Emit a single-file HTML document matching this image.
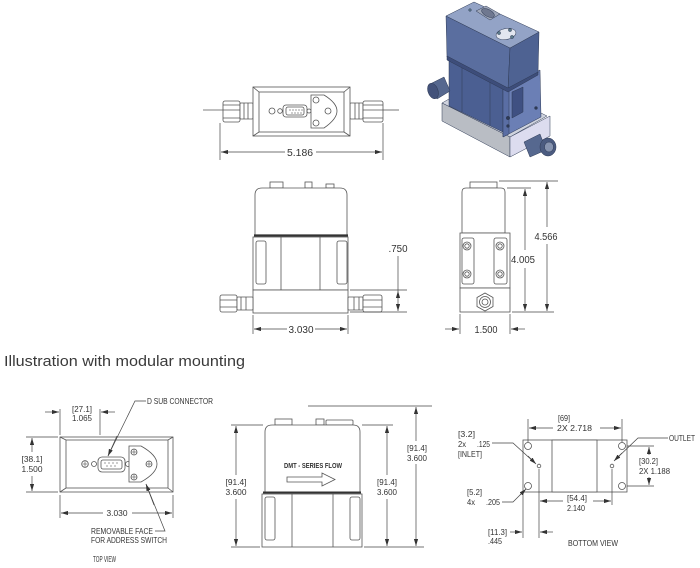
<!DOCTYPE html>
<html><head><meta charset="utf-8"><style>
html,body{margin:0;padding:0;background:#fff;}
svg{display:block;}
text{font-family:"Liberation Sans",Arial,sans-serif;fill:#333;}
</style></head><body>
<svg width="700" height="568" viewBox="0 0 700 568" xmlns="http://www.w3.org/2000/svg">
<defs>
<marker id="a" viewBox="0 0 10 6" refX="10" refY="3" markerWidth="7" markerHeight="4.2" orient="auto" markerUnits="userSpaceOnUse"><path d="M0,0 L10,3 L0,6 z" fill="#333"/></marker>
</defs>

<!-- ================= UPPER TOP VIEW ================= -->
<g stroke="#555" stroke-width="0.8" fill="#fff">
 <line x1="203" y1="110" x2="223" y2="110"/>
 <line x1="383" y1="110" x2="399" y2="110"/>
 <rect x="223" y="101" width="17" height="21" rx="2"/>
 <line x1="223" y1="105" x2="240" y2="105"/><line x1="223" y1="118" x2="240" y2="118"/>
 <line x1="223" y1="110" x2="240" y2="110"/>
 <rect x="240" y="103" width="13" height="16" rx="1"/>
 <line x1="244" y1="103" x2="244" y2="119"/><line x1="248" y1="103" x2="248" y2="119"/>
 <rect x="350" y="103" width="13" height="16" rx="1"/>
 <line x1="355" y1="103" x2="355" y2="119"/><line x1="359" y1="103" x2="359" y2="119"/>
 <rect x="363" y="101" width="20" height="21" rx="2"/>
 <line x1="363" y1="105" x2="383" y2="105"/><line x1="363" y1="118" x2="383" y2="118"/>
 <line x1="363" y1="110" x2="383" y2="110"/>
 <rect x="253" y="87" width="97" height="49"/>
 <rect x="259" y="92" width="85" height="40"/>
 <line x1="253" y1="87" x2="259" y2="92"/><line x1="350" y1="87" x2="344" y2="92"/>
 <line x1="253" y1="136" x2="259" y2="132"/><line x1="350" y1="136" x2="344" y2="132"/>
 <rect x="283" y="105" width="24" height="12" rx="3"/>
 <rect x="286" y="107" width="18" height="8" rx="2"/>
 <circle cx="272" cy="111" r="3"/><circle cx="280" cy="111" r="2.3"/><circle cx="309" cy="111" r="2"/>
 <path d="M311,95 L324,95 Q337,103 337,111 Q337,119 324,128 L311,128 Z"/>
 <circle cx="316" cy="100" r="3"/><circle cx="316" cy="123" r="3"/><circle cx="328" cy="111" r="3"/>
</g>
<g fill="#555"><circle cx="290" cy="110" r=".6"/><circle cx="293" cy="110" r=".6"/><circle cx="296" cy="110" r=".6"/><circle cx="299" cy="110" r=".6"/><circle cx="302" cy="110" r=".6"/><circle cx="292" cy="113" r=".6"/><circle cx="295" cy="113" r=".6"/><circle cx="298" cy="113" r=".6"/><circle cx="301" cy="113" r=".6"/></g>
<g stroke="#444" stroke-width="0.7" fill="none">
 <line x1="220" y1="123" x2="220" y2="160"/><line x1="383" y1="123" x2="383" y2="160"/>
 <line x1="285" y1="152" x2="221" y2="152" marker-end="url(#a)"/>
 <line x1="316" y1="152" x2="382" y2="152" marker-end="url(#a)"/>
</g>
<text x="300" y="156" font-size="10" text-anchor="middle" textLength="26" lengthAdjust="spacingAndGlyphs">5.186</text>

<!-- ================= 3D RENDER ================= -->
<g stroke="#2e3a55" stroke-width="0.5">
 <polygon points="442,103 510,137 547,116 479,82" fill="#cfd3de"/>
 <polygon points="442,103 510,137 510,157 442,121" fill="#b9bdc4"/>
 <polygon points="510,137 550,116 550,136 510,157" fill="#dcdcef"/>
 <polygon points="449,57 507,88 507,134 449,106" fill="#4b5f92"/>
 <line x1="462" y1="64" x2="462" y2="112"/><line x1="490" y1="79" x2="490" y2="126"/>
 <polygon points="503,88 540,70 541,117 503,137" fill="#6b7fb5"/>
 <polygon points="503,88 509,85 509,134 503,137" fill="#5a6ea4"/>
 <polygon points="512,92 523,87 523,112 512,118" fill="#3f5082"/>
 <circle cx="508" cy="118" r="1.8" fill="#2e3a55"/><circle cx="508" cy="126" r="1.5" fill="#2e3a55"/>
 <circle cx="536" cy="108" r="1.5" fill="#2e3a55"/>
 <polygon points="446,16 510,48 508,90 447,57" fill="#5a6e9f"/>
 <polygon points="510,48 539,32 538,73 508,90" fill="#4e6292"/>
 <polygon points="446,16 474,2 539,32 510,48" fill="#93a3c6"/>
 <polygon points="447,56 508,88 538,72 538,75 508,92 447,60" fill="#3d4d7a"/>
 <polygon points="476,11 486,6 500,14 490,20" fill="#a0a8ba"/>
 <ellipse cx="488" cy="13" rx="7" ry="3.5" fill="#6f7890" transform="rotate(28 488 13)"/>
 <ellipse cx="506" cy="34" rx="10" ry="5.5" fill="#e2e6f0" transform="rotate(-10 506 34)"/>
 <circle cx="499" cy="33" r="1.6" fill="#5a7a8a"/><circle cx="510" cy="30" r="1.6" fill="#5a7a8a"/><circle cx="512" cy="37" r="1.6" fill="#5a7a8a"/>
 <circle cx="470" cy="10" r="1.3" fill="#5a7a8a"/>
 <path d="M430,84 L444,77 L450,91 L437,99 Z" fill="#56688f"/>
 <ellipse cx="433" cy="91" rx="5" ry="8" fill="#43527a" transform="rotate(-20 433 91)"/>
 <path d="M524,142 L540,134 L546,150 L530,157 Z" fill="#56688f"/>
 <ellipse cx="548" cy="147" rx="8" ry="9" fill="#4b5b80"/>
 <ellipse cx="549" cy="147" rx="4.5" ry="5" fill="#8794b0"/>
</g>

<!-- ================= UPPER FRONT VIEW ================= -->
<g stroke="#555" stroke-width="0.8" fill="#fff">
 <rect x="270" y="182" width="13" height="6"/><rect x="305" y="182" width="7" height="6"/><rect x="326" y="184" width="8" height="4"/>
 <path d="M255,235 L255,195 Q255,188 262,188 L340,188 Q347,188 347,195 L347,235 Z"/>
 <rect x="253" y="237" width="95" height="53"/>
 <line x1="281" y1="237" x2="281" y2="290"/><line x1="320" y1="237" x2="320" y2="290"/>
 <rect x="256" y="241" width="10" height="43" rx="2"/><rect x="337" y="241" width="10" height="43" rx="2"/>
 <rect x="253" y="290" width="95" height="23"/>
 <rect x="220" y="295" width="17" height="17" rx="2"/>
 <line x1="220" y1="300" x2="237" y2="300"/><line x1="220" y1="307" x2="237" y2="307"/>
 <rect x="237" y="297" width="16" height="13" rx="1"/>
 <line x1="241" y1="297" x2="241" y2="310"/><line x1="246" y1="297" x2="246" y2="310"/>
 <rect x="348" y="297" width="15" height="13" rx="1"/>
 <line x1="354" y1="297" x2="354" y2="310"/><line x1="359" y1="297" x2="359" y2="310"/>
 <rect x="363" y="295" width="19" height="17" rx="2"/>
 <line x1="363" y1="300" x2="382" y2="300"/><line x1="363" y1="307" x2="382" y2="307"/>
</g>
<line x1="254" y1="235.5" x2="348" y2="235.5" stroke="#333" stroke-width="2.2"/>
<g stroke="#444" stroke-width="0.7" fill="none">
 <line x1="350" y1="290" x2="407" y2="290"/><line x1="350" y1="312" x2="407" y2="312"/>
 <line x1="398" y1="256" x2="398" y2="291"/>
 <line x1="398" y1="301" x2="398" y2="291" marker-end="url(#a)"/>
 <line x1="398" y1="301" x2="398" y2="311" marker-end="url(#a)"/>
 <line x1="253" y1="315" x2="253" y2="334"/><line x1="348" y1="315" x2="348" y2="334"/>
 <line x1="287" y1="329" x2="254" y2="329" marker-end="url(#a)"/>
 <line x1="315" y1="329" x2="347" y2="329" marker-end="url(#a)"/>
</g>
<text x="398" y="252" font-size="10" text-anchor="middle" textLength="19" lengthAdjust="spacingAndGlyphs">.750</text>
<text x="301" y="333" font-size="10" text-anchor="middle" textLength="25" lengthAdjust="spacingAndGlyphs">3.030</text>

<!-- ================= UPPER SIDE VIEW ================= -->
<g stroke="#555" stroke-width="0.8" fill="#fff">
 <rect x="470" y="182" width="27" height="6"/>
 <path d="M462,233 L462,192 Q462,188 466,188 L501,188 Q505,188 505,192 L505,233 Z"/>
 <rect x="460" y="233" width="50" height="55"/>
 <rect x="462" y="238" width="12" height="46" rx="2"/><rect x="494" y="238" width="13" height="46" rx="2"/>
 <rect x="460" y="288" width="50" height="24"/>
 <circle cx="467" cy="246" r="4"/><circle cx="467" cy="274" r="4"/><circle cx="500" cy="246" r="4"/><circle cx="500" cy="274" r="4"/>
 <circle cx="467" cy="246" r="2.2"/><circle cx="467" cy="274" r="2.2"/><circle cx="500" cy="246" r="2.2"/><circle cx="500" cy="274" r="2.2"/>
 <polygon points="485,293 493,297.5 493,306.5 485,311 477,306.5 477,297.5"/>
 <circle cx="485" cy="302" r="5.5"/><circle cx="485" cy="302" r="3"/>
</g>
<g stroke="#444" stroke-width="0.7" fill="none">
 <line x1="507" y1="188" x2="531" y2="188"/><line x1="499" y1="181" x2="558" y2="181"/>
 <line x1="512" y1="312" x2="554" y2="312"/>
 <line x1="525" y1="250" x2="525" y2="189" marker-end="url(#a)"/>
 <line x1="525" y1="268" x2="525" y2="311" marker-end="url(#a)"/>
 <line x1="547" y1="227" x2="547" y2="182" marker-end="url(#a)"/>
 <line x1="547" y1="244" x2="547" y2="311" marker-end="url(#a)"/>
 <line x1="460" y1="314" x2="460" y2="334"/><line x1="510" y1="314" x2="510" y2="334"/>
 <line x1="445" y1="329" x2="459" y2="329" marker-end="url(#a)"/>
 <line x1="525" y1="329" x2="511" y2="329" marker-end="url(#a)"/>
</g>
<text x="523" y="263" font-size="10" text-anchor="middle" textLength="24" lengthAdjust="spacingAndGlyphs">4.005</text>
<text x="546" y="240" font-size="10" text-anchor="middle" textLength="23" lengthAdjust="spacingAndGlyphs">4.566</text>
<text x="486" y="333" font-size="10" text-anchor="middle" textLength="23" lengthAdjust="spacingAndGlyphs">1.500</text>

<!-- ================= TITLE ================= -->
<text x="4" y="366" font-size="15" textLength="241" lengthAdjust="spacingAndGlyphs" style="fill:#3a3a3a">Illustration with modular mounting</text>

<!-- ================= BOTTOM-LEFT TOP VIEW ================= -->
<g stroke="#555" stroke-width="0.8" fill="#fff">
 <rect x="60" y="437" width="113" height="55"/>
 <rect x="66" y="440" width="102" height="48"/>
 <line x1="60" y1="437" x2="66" y2="440"/><line x1="173" y1="437" x2="168" y2="440"/>
 <line x1="60" y1="492" x2="66" y2="488"/><line x1="173" y1="492" x2="168" y2="488"/>
 <rect x="98" y="457" width="27" height="15" rx="4"/>
 <rect x="101" y="460" width="21" height="9" rx="2"/>
 <circle cx="85" cy="464" r="3.3"/><circle cx="94" cy="464" r="2.5"/><circle cx="128" cy="464" r="2.5"/>
 <path d="M129,446 L141,446 Q157,455 157,464 Q157,473 141,482 L129,482 Z"/>
 <circle cx="134" cy="452" r="3"/><circle cx="149" cy="464" r="3"/><circle cx="134" cy="477" r="3"/>
</g>
<g stroke="#555" stroke-width="0.6"><line x1="82.5" y1="464" x2="87.5" y2="464"/><line x1="85" y1="461.5" x2="85" y2="466.5"/>
<line x1="131.5" y1="452" x2="136.5" y2="452"/><line x1="134" y1="449.5" x2="134" y2="454.5"/>
<line x1="146.5" y1="464" x2="151.5" y2="464"/><line x1="149" y1="461.5" x2="149" y2="466.5"/>
<line x1="131.5" y1="477" x2="136.5" y2="477"/><line x1="134" y1="474.5" x2="134" y2="479.5"/></g>
<g fill="#555"><circle cx="105" cy="463" r=".6"/><circle cx="109" cy="463" r=".6"/><circle cx="113" cy="463" r=".6"/><circle cx="117" cy="463" r=".6"/><circle cx="107" cy="466" r=".6"/><circle cx="111" cy="466" r=".6"/><circle cx="115" cy="466" r=".6"/></g>
<g stroke="#444" stroke-width="0.7" fill="none">
 <line x1="60" y1="409" x2="60" y2="435"/><line x1="100" y1="409" x2="100" y2="435"/>
 <line x1="45" y1="412" x2="59" y2="412" marker-end="url(#a)"/>
 <line x1="115" y1="412" x2="101" y2="412" marker-end="url(#a)"/>
 <line x1="26" y1="437" x2="58" y2="437"/><line x1="26" y1="492" x2="58" y2="492"/>
 <line x1="32" y1="452" x2="32" y2="438" marker-end="url(#a)"/>
 <line x1="32" y1="476" x2="32" y2="491" marker-end="url(#a)"/>
 <line x1="60" y1="495" x2="60" y2="518"/><line x1="173" y1="495" x2="173" y2="518"/>
 <line x1="103" y1="513" x2="61" y2="513" marker-end="url(#a)"/>
 <line x1="132" y1="513" x2="172" y2="513" marker-end="url(#a)"/>
 <polyline points="146,401 135,401 108,456" />
 <line x1="117" y1="436" x2="108" y2="456" marker-end="url(#a)"/>
 <polyline points="155,531 165,531 146,484"/>
 <line x1="154" y1="505" x2="146" y2="484" marker-end="url(#a)"/>
</g>
<g font-size="8.2">
 <text x="82" y="412" text-anchor="middle" textLength="20" lengthAdjust="spacingAndGlyphs">[27.1]</text>
 <text x="82" y="421" text-anchor="middle" textLength="20" lengthAdjust="spacingAndGlyphs">1.065</text>
 <text x="32" y="462" text-anchor="middle" textLength="21" lengthAdjust="spacingAndGlyphs">[38.1]</text>
 <text x="32" y="472" text-anchor="middle" textLength="21" lengthAdjust="spacingAndGlyphs">1.500</text>
 <text x="117" y="516" text-anchor="middle" textLength="21" lengthAdjust="spacingAndGlyphs">3.030</text>
 <text x="147" y="404" textLength="66" lengthAdjust="spacingAndGlyphs">D SUB CONNECTOR</text>
 <text x="91" y="534" textLength="62" lengthAdjust="spacingAndGlyphs">REMOVABLE FACE</text>
 <text x="91" y="543" textLength="76" lengthAdjust="spacingAndGlyphs">FOR ADDRESS SWITCH</text>
 <text x="93" y="562" textLength="23" lengthAdjust="spacingAndGlyphs">TOP VIEW</text>
</g>

<!-- ================= BOTTOM-MIDDLE FRONT VIEW ================= -->
<g stroke="#555" stroke-width="0.8" fill="#fff">
 <rect x="275" y="419" width="17" height="6"/><rect x="316" y="419" width="8" height="6"/><rect x="326" y="420" width="27" height="5" rx="1"/>
 <path d="M265,492 L265,432 Q265,425 272,425 L353,425 Q360,425 360,432 L360,492 Z"/>
 <rect x="262" y="494" width="100" height="53"/>
 <line x1="292" y1="494" x2="292" y2="547"/><line x1="333" y1="494" x2="333" y2="547"/>
 <rect x="265" y="497" width="10" height="43" rx="2"/><rect x="350" y="497" width="10" height="43" rx="2"/>
 <path d="M287,477 L322,477 L322,473 L335,479.5 L322,486 L322,482 L287,482 Z"/>
</g>
<line x1="263" y1="492.5" x2="361" y2="492.5" stroke="#333" stroke-width="2"/>
<text x="313" y="468" font-size="7.5" font-weight="bold" text-anchor="middle" textLength="58" lengthAdjust="spacingAndGlyphs">DMT - SERIES FLOW</text>
<g stroke="#444" stroke-width="0.7" fill="none">
 <line x1="231" y1="425" x2="263" y2="425"/><line x1="231" y1="547" x2="260" y2="547"/>
 <line x1="362" y1="425" x2="393" y2="425"/><line x1="364" y1="547" x2="424" y2="547"/>
 <line x1="308" y1="406" x2="432" y2="406"/>
 <line x1="236" y1="475" x2="236" y2="426" marker-end="url(#a)"/>
 <line x1="236" y1="499" x2="236" y2="546" marker-end="url(#a)"/>
 <line x1="387" y1="475" x2="387" y2="426" marker-end="url(#a)"/>
 <line x1="387" y1="499" x2="387" y2="546" marker-end="url(#a)"/>
 <line x1="416" y1="441" x2="416" y2="407" marker-end="url(#a)"/>
 <line x1="416" y1="464" x2="416" y2="546" marker-end="url(#a)"/>
</g>
<g font-size="8.2" text-anchor="middle">
 <text x="236" y="485" textLength="21" lengthAdjust="spacingAndGlyphs">[91.4]</text>
 <text x="236" y="495" textLength="21" lengthAdjust="spacingAndGlyphs">3.600</text>
 <text x="387" y="485" textLength="20" lengthAdjust="spacingAndGlyphs">[91.4]</text>
 <text x="387" y="495" textLength="20" lengthAdjust="spacingAndGlyphs">3.600</text>
 <text x="417" y="451" textLength="20" lengthAdjust="spacingAndGlyphs">[91.4]</text>
 <text x="417" y="461" textLength="20" lengthAdjust="spacingAndGlyphs">3.600</text>
</g>

<!-- ================= BOTTOM VIEW ================= -->
<g stroke="#555" stroke-width="0.8" fill="#fff">
 <rect x="523" y="440" width="104" height="52"/>
 <rect x="552" y="440" width="45" height="52"/>
 <circle cx="528" cy="446" r="3.5"/><circle cx="622" cy="446" r="3.5"/>
 <circle cx="528" cy="486" r="3.5"/><circle cx="622" cy="486" r="3.5"/>
 <circle cx="539" cy="466" r="1.8"/><circle cx="612" cy="466" r="1.8"/>
</g>
<g stroke="#444" stroke-width="0.7" fill="none">
 <line x1="528" y1="419" x2="528" y2="442"/><line x1="622" y1="419" x2="622" y2="442"/>
 <line x1="553" y1="428" x2="529" y2="428" marker-end="url(#a)"/>
 <line x1="600" y1="428" x2="621" y2="428" marker-end="url(#a)"/>
 <line x1="627" y1="446" x2="654" y2="446"/><line x1="627" y1="486" x2="654" y2="486"/>
 <line x1="649" y1="455" x2="649" y2="447" marker-end="url(#a)"/>
 <line x1="649" y1="477" x2="649" y2="485" marker-end="url(#a)"/>
 <line x1="539" y1="469" x2="539" y2="538"/><line x1="612" y1="469" x2="612" y2="505"/>
 <line x1="523" y1="493" x2="523" y2="538"/>
 <line x1="563" y1="501" x2="540" y2="501" marker-end="url(#a)"/>
 <line x1="593" y1="501" x2="611" y2="501" marker-end="url(#a)"/>
 <line x1="510" y1="532" x2="522" y2="532" marker-end="url(#a)"/>
 <line x1="553" y1="532" x2="540" y2="532" marker-end="url(#a)"/>
 <polyline points="492,443 513,443 535,463"/>
 <line x1="528" y1="456" x2="536" y2="464" marker-end="url(#a)"/>
 <polyline points="668,438 638,438 615,460"/>
 <line x1="622" y1="453" x2="614" y2="461" marker-end="url(#a)"/>
 <polyline points="502,502 513,502 525,490"/>
 <line x1="520" y1="495" x2="526" y2="489" marker-end="url(#a)"/>
</g>
<g font-size="8.2">
 <text x="558" y="421" textLength="12" lengthAdjust="spacingAndGlyphs">[69]</text>
 <text x="557" y="431" textLength="35" lengthAdjust="spacingAndGlyphs">2X 2.718</text>
 <text x="669" y="441" textLength="26" lengthAdjust="spacingAndGlyphs">OUTLET</text>
 <text x="458" y="437" textLength="17" lengthAdjust="spacingAndGlyphs">[3.2]</text>
 <text x="458" y="447" textLength="8" lengthAdjust="spacingAndGlyphs">2x</text>
 <text x="477" y="447" textLength="13" lengthAdjust="spacingAndGlyphs">.125</text>
 <text x="458" y="457" textLength="24" lengthAdjust="spacingAndGlyphs">[INLET]</text>
 <text x="639" y="464" textLength="19" lengthAdjust="spacingAndGlyphs">[30.2]</text>
 <text x="639" y="474" textLength="31" lengthAdjust="spacingAndGlyphs">2X 1.188</text>
 <text x="467" y="495" textLength="15" lengthAdjust="spacingAndGlyphs">[5.2]</text>
 <text x="467" y="505" textLength="8" lengthAdjust="spacingAndGlyphs">4x</text>
 <text x="486" y="505" textLength="14" lengthAdjust="spacingAndGlyphs">.205</text>
 <text x="567" y="501" textLength="20" lengthAdjust="spacingAndGlyphs">[54.4]</text>
 <text x="567" y="511" textLength="18" lengthAdjust="spacingAndGlyphs">2.140</text>
 <text x="488" y="535" textLength="19" lengthAdjust="spacingAndGlyphs">[11.3]</text>
 <text x="488" y="544" textLength="14" lengthAdjust="spacingAndGlyphs">.445</text>
 <text x="568" y="546" textLength="50" lengthAdjust="spacingAndGlyphs">BOTTOM VIEW</text>
</g>
</svg>
</body></html>
